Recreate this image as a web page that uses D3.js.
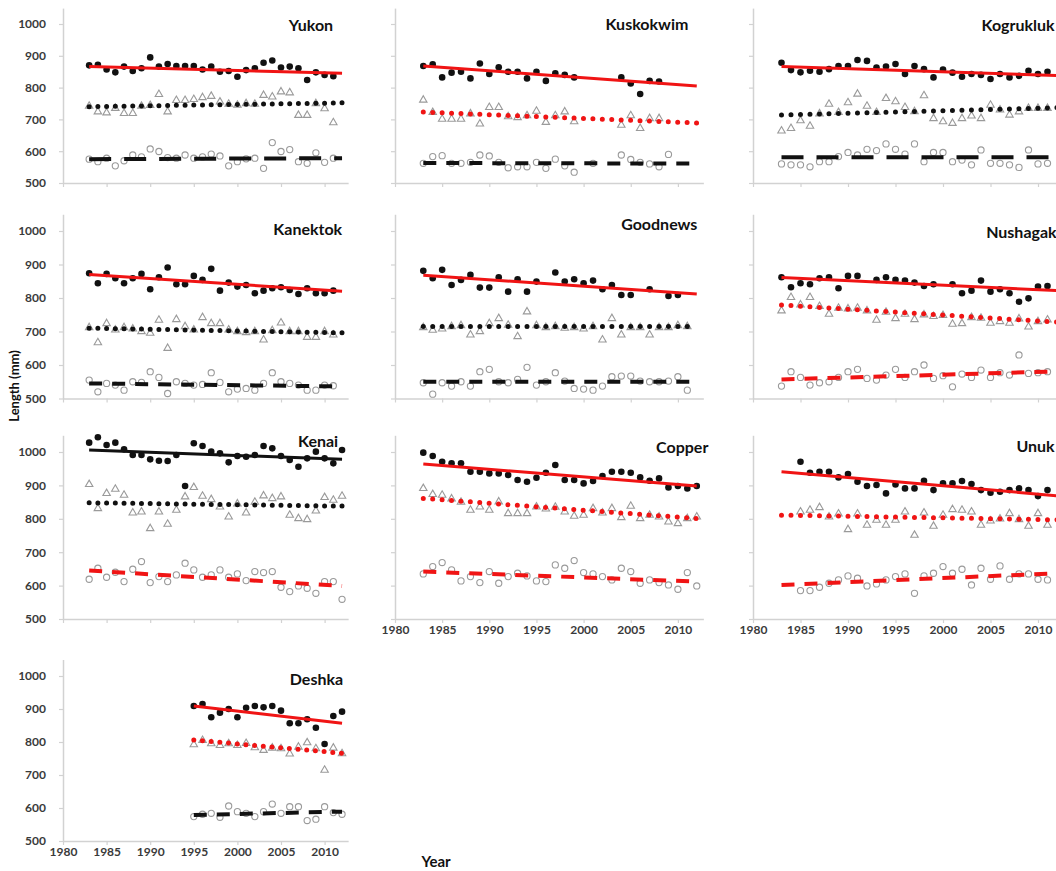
<!DOCTYPE html>
<html>
<head>
<meta charset="utf-8">
<script src="https://cdn.jsdelivr.net/npm/d3@7"></script>
<style>
  html, body { margin: 0; padding: 0; background: #fff; overflow: hidden; }
  svg { display: block; }
  text { font-family: Lato, "Open Sans", "DejaVu Sans", sans-serif; }
</style>
</head>
<body>
<svg id="chart" width="1056" height="871"></svg>
<script>
// ---------------- data ----------------
const years = d3.range(1983, 2013);          // 1983 … 2012
const deshkaYears = d3.range(1995, 2013);    // 1995 … 2012
const yTicks = [500, 600, 700, 800, 900, 1000];
const xTicks = [1980, 1985, 1990, 1995, 2000, 2005, 2010];
const rivers = ["Yukon", "Kuskokwim", "Kogrukluk", "Kanektok", "Goodnews",
                "Nushagak", "Kenai", "Copper", "Unuk", "Deshka"];

// mean length (mm) by year: oldest age group (filled), middle (triangle), youngest (circle)
const yukonOld   = [870,872,857,848,866,852,861,895,866,874,868,868,868,857,866,850,852,834,855,861,878,885,863,866,861,824,848,840,836,null];
const yukonMid   = [742,724,721,735,719,719,742,744,779,724,760,760,763,769,773,755,748,745,750,748,776,771,787,784,713,713,750,734,690,null];
const yukonYoung = [575,567,578,554,570,588,582,607,599,580,578,588,578,582,591,585,554,567,576,578,546,627,599,605,567,562,595,565,578,null];

const kuskokwimOld   = [868,873,832,847,850,829,876,843,864,850,850,829,850,821,845,840,832,null,null,null,null,832,813,780,821,819,null,null,null,null];
const kuskokwimMid   = [761,722,701,701,701,718,686,738,738,709,706,712,726,691,712,724,693,null,null,null,null,682,712,672,703,703,null,null,null,null];
const kuskokwimYoung = [562,583,586,562,562,565,588,585,565,548,551,551,565,546,575,554,534,null,562,null,null,588,574,565,560,551,590,null,null,null];

const kogruklukOld   = [878,855,848,853,850,858,868,868,887,884,863,866,874,843,868,858,832,857,847,834,843,840,827,843,832,837,853,843,850,null];
const kogruklukMid   = [664,672,696,679,718,748,722,753,780,742,722,766,756,738,725,775,703,693,688,703,711,703,745,730,714,724,735,735,735,null];
const kogruklukYoung = [560,557,557,551,567,567,583,596,588,606,602,623,606,591,623,567,596,596,567,572,557,604,562,562,557,549,604,560,562,null];

const kanektokOld   = [874,844,872,859,844,859,872,826,862,891,841,841,866,854,887,822,846,834,839,814,822,829,832,824,812,829,814,814,822,null];
const kanektokMid   = [712,667,724,705,712,708,700,695,734,650,736,715,705,742,724,724,705,700,697,700,675,703,726,700,700,683,683,700,690,null];
const kanektokYoung = [555,520,545,540,525,550,548,580,563,515,550,545,540,542,577,548,520,528,530,525,545,577,550,545,540,525,525,540,538,null];

const goodnewsOld   = [881,859,884,839,854,869,831,831,862,819,856,819,849,null,876,849,856,844,852,826,839,809,809,null,826,null,806,809,null,null];
const goodnewsMid   = [712,704,708,715,718,690,700,724,739,719,685,759,718,712,715,710,712,708,715,675,739,690,712,712,690,712,712,718,715,null];
const goodnewsYoung = [547,513,547,537,550,537,580,587,550,547,557,593,540,550,577,552,530,528,525,537,565,567,567,552,550,550,552,565,525,null];

const nushagakOld   = [862,832,844,841,859,862,829,866,866,null,854,862,854,852,846,836,841,null,841,814,822,852,819,826,814,789,799,834,836,null];
const nushagakMid   = [762,802,780,802,775,752,770,768,770,762,734,758,739,752,736,750,745,748,722,724,742,740,725,730,725,738,714,730,735,null];
const nushagakYoung = [537,580,563,540,547,550,563,580,587,560,555,570,587,563,580,600,560,568,535,573,563,585,563,577,570,630,575,577,580,null];

const kenaiOld   = [1028,1044,1021,1028,1008,991,991,978,974,973,991,898,1026,1018,1001,996,969,988,986,991,1018,1011,988,976,956,981,1001,981,966,1006];
const kenaiMid   = [903,831,876,889,871,818,821,771,821,784,826,866,894,868,858,836,806,845,818,850,869,861,866,811,801,798,824,864,856,868];
const kenaiYoung = [619,652,625,640,612,649,672,609,627,612,632,667,647,625,632,647,625,635,615,642,639,642,595,582,599,592,577,612,612,559];

const copperOld   = [998,988,971,966,966,941,941,936,936,931,916,911,923,938,961,916,916,906,913,928,941,941,938,924,914,921,894,898,891,898];
const copperMid   = [891,873,871,860,850,826,836,826,851,816,816,816,836,830,835,821,808,811,831,818,831,804,838,801,811,806,791,786,801,806];
const copperYoung = [635,657,669,647,614,627,609,642,607,627,637,629,614,612,662,652,675,639,635,627,617,652,642,607,617,609,602,589,639,599];

const unukOld   = [null,null,971,938,941,941,924,934,911,898,901,876,903,891,891,914,886,906,906,913,904,886,878,881,886,891,886,868,886,null];
const unukMid   = [null,null,821,826,834,806,815,768,815,781,796,781,796,821,751,818,778,811,828,826,821,781,794,800,816,798,778,816,781,null];
const unukYoung = [null,null,585,585,595,607,617,629,622,599,605,617,627,635,577,629,637,657,637,649,602,652,619,659,619,635,635,619,617,null];

const deshkaOld   = [909,915,875,889,900,875,904,909,905,909,895,857,857,869,843,794,879,892];
const deshkaMid   = [792,805,795,790,795,790,796,783,775,782,780,764,785,798,780,715,782,765];
const deshkaYoung = [574,581,584,572,606,589,584,574,589,612,584,604,604,562,566,604,586,581];

// fitted trend values at the first and last year: [old, middle, young]
const yukonTrend     = [[866, 845], [740, 752], [575, 578]];
const kuskokwimTrend = [[868, 805], [723, 689], [563, 561]];
const kogruklukTrend = [[866, 838], [714, 737], [581, 581]];
const kanektokTrend  = [[870, 820], [710, 696], [545, 536]];
const goodnewsTrend  = [[868, 812], [715, 715], [550, 550]];
const nushagakTrend  = [[861, 822], [779, 728], [557, 581]];
const kenaiTrend     = [[1006, 978], [848, 838], [645, 599]];
const copperTrend    = [[964, 898], [861, 801], [642, 612]];
const unukTrend      = [[941, 869], [811, 797], [602, 637]];
const deshkaTrend    = [[909, 857], [806, 766], [579, 589]];

// significant trends are red, others black: [old, middle, young]
const yukonSig     = [true,  false, false];
const kuskokwimSig = [true,  true,  false];
const kogruklukSig = [true,  false, false];
const kanektokSig  = [true,  false, false];
const goodnewsSig  = [true,  false, false];
const nushagakSig  = [true,  true,  true];
const kenaiSig     = [false, false, true];
const copperSig    = [true,  true,  true];
const unukSig      = [true,  true,  true];
const deshkaSig    = [true,  true,  false];

// ---------------- layout ----------------
const cols = [
  { x1980: 63,  perYear: 8.72 },
  { x1980: 395, perYear: 9.43 },
  { x1980: 753, perYear: 9.5 }
];
const rows = [
  { y1000: 24,  y500: 183 },
  { y1000: 231, y500: 398.5 },
  { y1000: 452, y500: 619 },
  { y1000: 676, y500: 841 }
];
const xMax = 2012.7;

const panels = [
  { name: rivers[0], col: 0, row: 0, yrs: years, old: yukonOld, mid: yukonMid, young: yukonYoung, trend: yukonTrend, sig: yukonSig, longDash: true,  titleDx: -15, titleDy: 7 },
  { name: rivers[1], col: 1, row: 0, yrs: years, old: kuskokwimOld, mid: kuskokwimMid, young: kuskokwimYoung, trend: kuskokwimTrend, sig: kuskokwimSig, titleDx: -15, titleDy: 6 },
  { name: rivers[2], col: 2, row: 0, yrs: years, old: kogruklukOld, mid: kogruklukMid, young: kogruklukYoung, trend: kogruklukTrend, sig: kogruklukSig, longDash: true, titleDx: -9, titleDy: 7 },
  { name: rivers[3], col: 0, row: 1, yrs: years, old: kanektokOld, mid: kanektokMid, young: kanektokYoung, trend: kanektokTrend, sig: kanektokSig, titleDx: -6, titleDy: 4 },
  { name: rivers[4], col: 1, row: 1, yrs: years, old: goodnewsOld, mid: goodnewsMid, young: goodnewsYoung, trend: goodnewsTrend, sig: goodnewsSig, titleDx: -6, titleDy: -1 },
  { name: rivers[5], col: 2, row: 1, yrs: years, old: nushagakOld, mid: nushagakMid, young: nushagakYoung, trend: nushagakTrend, sig: nushagakSig, titleDx: -7, titleDy: 7 },
  { name: rivers[6], col: 0, row: 2, yrs: years, old: kenaiOld, mid: kenaiMid, young: kenaiYoung, trend: kenaiTrend, sig: kenaiSig, titleDx: -10, titleDy: -5 },
  { name: rivers[7], col: 1, row: 2, yrs: years, old: copperOld, mid: copperMid, young: copperYoung, trend: copperTrend, sig: copperSig, xLabels: true, titleDx: 5, titleDy: 1 },
  { name: rivers[8], col: 2, row: 2, yrs: years, old: unukOld, mid: unukMid, young: unukYoung, trend: unukTrend, sig: unukSig, xLabels: true, titleDx: -9, titleDy: 0 },
  { name: rivers[9], col: 0, row: 3, yrs: deshkaYears, old: deshkaOld, mid: deshkaMid, young: deshkaYoung, trend: deshkaTrend, sig: deshkaSig, xLabels: true, titleDx: -5, titleDy: 9 }
];

const RED = "#f01414", BLACK = "#111", GREY = "#9a9a9a", AXIS = "#d2d2d2";

const svg = d3.select("#chart");

panels.forEach(p => {
  const c = cols[p.col], r = rows[p.row];
  const x = d3.scaleLinear().domain([1980, xMax])
    .range([c.x1980, c.x1980 + (xMax - 1980) * c.perYear]);
  const y = d3.scaleLinear().domain([500, 1000]).range([r.y500, r.y1000]);
  const g = svg.append("g").attr("class", "panel");

  // axes
  const yAxis = d3.axisLeft(y.copy().domain([500, 1050]).range([r.y500, y(1050)]))
    .tickValues(yTicks).tickSize(4).tickSizeOuter(0).tickPadding(13)
    .tickFormat(p.col === 0 ? d3.format("d") : "");
  const ya = g.append("g").attr("transform", `translate(${x(1980)},0)`).call(yAxis);
  const xAxis = d3.axisBottom(x).tickValues(xTicks).tickSize(4).tickSizeOuter(0).tickPadding(2)
    .tickFormat(p.xLabels ? d3.format("d") : "");
  const xa = g.append("g").attr("transform", `translate(0,${y(500)})`).call(xAxis);
  [ya, xa].forEach(a => {
    a.select(".domain").attr("stroke", AXIS).attr("stroke-width", 1.5);
    a.selectAll(".tick line").attr("stroke", AXIS).attr("stroke-width", 1.2);
    a.selectAll(".tick text").attr("fill", "#3a3a3a").style("font-size", "12px")
      .style("font-weight", 700)
      .style("font-family", "Lato, 'Open Sans', sans-serif");
  });

  const pts = vals => p.yrs.map((yr, i) => ({ yr, v: vals[i] })).filter(d => d.v != null);

  // youngest group: open circles
  g.append("g").selectAll("circle").data(pts(p.young)).join("circle")
    .attr("cx", d => x(d.yr)).attr("cy", d => y(d.v)).attr("r", 3.1)
    .attr("fill", "none").attr("stroke", GREY).attr("stroke-width", 1.1);

  // middle group: open triangles
  const tri = d3.symbol().type(d3.symbolTriangle).size(24);
  g.append("g").selectAll("path").data(pts(p.mid)).join("path")
    .attr("d", tri).attr("transform", d => `translate(${x(d.yr)},${y(d.v)})`)
    .attr("fill", "none").attr("stroke", GREY).attr("stroke-width", 1.1);

  // oldest group: filled circles
  g.append("g").selectAll("circle").data(pts(p.old)).join("circle")
    .attr("cx", d => x(d.yr)).attr("cy", d => y(d.v)).attr("r", 3.3)
    .attr("fill", BLACK);

  // trend lines
  const y0 = p.yrs[0], y1 = 2012;
  const line = d3.line().x(d => x(d[0])).y(d => y(d[1]));
  const step = x(1981) - x(1980);
  const styles = [
    { w: 3,   dash: null,                          cap: "butt"  },
    { w: 5,   dash: `0 ${step.toFixed(2)}`,        cap: "round" },
    { w: 4,   dash: p.longDash ? "22 13" : "13 10", cap: "butt"  }
  ];
  p.trend.forEach((t, k) => {
    g.append("path")
      .attr("d", line([[y0, t[0]], [y1, t[1]]]))
      .attr("fill", "none")
      .attr("stroke", p.sig[k] ? RED : BLACK)
      .attr("stroke-width", styles[k].w)
      .attr("stroke-linecap", styles[k].cap)
      .attr("stroke-dasharray", styles[k].dash);
  });

  // river name
  g.append("text")
    .attr("x", x(xMax) + p.titleDx).attr("y", y(1000) + p.titleDy)
    .attr("text-anchor", "end").attr("font-weight", 700).attr("font-size", 16)
    .attr("fill", "#111").text(p.name);
});

// shared axis titles
svg.append("text")
  .attr("transform", "translate(19,386) rotate(-90)")
  .attr("text-anchor", "middle").attr("font-weight", 700).attr("font-size", 13)
  .attr("fill", "#111").text("Length (mm)");
svg.append("text")
  .attr("x", 436).attr("y", 867)
  .attr("text-anchor", "middle").attr("font-weight", 700).attr("font-size", 15)
  .attr("fill", "#111").text("Year");
</script>
</body>
</html>
